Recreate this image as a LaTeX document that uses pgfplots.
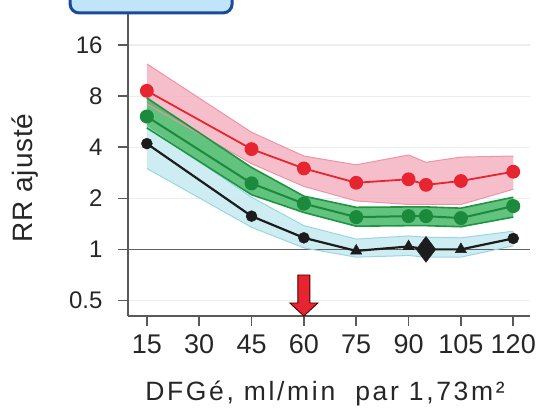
\documentclass[border=0pt]{standalone}
\usepackage{fontspec}
\setmainfont{Liberation Sans}
\newfontfamily\xlfont{Liberation Sans}[LetterSpace=10]
\newfontfamily\ylfont{Liberation Sans}[LetterSpace=3]
\usepackage{pgfplots}
\pgfplotsset{compat=1.18}
\usepgfplotslibrary{fillbetween}

\definecolor{cred}{HTML}{E62530}
\definecolor{pinkband}{HTML}{F4B3C2}
\definecolor{pinkedge}{HTML}{EE93A8}
\definecolor{cgreen}{HTML}{1B8A3C}
\definecolor{greenband}{HTML}{47B868}
\definecolor{greenedge}{HTML}{1F9442}
\definecolor{blueband}{HTML}{C8EBF2}
\definecolor{blueedge}{HTML}{9AD6E2}
\definecolor{cblack}{HTML}{1C1C1C}
\definecolor{boxfill}{HTML}{C0E4F8}
\definecolor{boxline}{HTML}{1A4A9C}

% x: 15 45 60 75 90 95 105 120
\pgfplotstableread{
x    rc    ru    rl    gc    gu    gl    kc    bu    bl
15   8.6   12.4  7.2   6.07  7.8   5.2   4.2   5.3   3.0
45   3.9   4.9   3.2   2.45  3.04  2.1   1.57  2.03  1.35
60   3.0   3.55  2.35  1.86  2.06  1.65  1.17  1.38  1.02
75   2.47  3.15  1.93  1.55  1.77  1.37  0.98  1.15  0.90
90   2.59  3.6   1.84  1.57  1.78  1.38  1.04  1.20  0.92
95   2.40  3.26  1.84  1.57  1.78  1.38  1.00  1.18  0.90
105  2.53  3.5   1.84  1.53  1.75  1.36  1.00  1.17  0.90
120  2.87  3.55  2.26  1.80  2.03  1.55  1.16  1.28  1.05
}\rr

\begin{document}
\begin{tikzpicture}
\begin{axis}[
  scale only axis, width=402pt, height=316pt,
  xmin=9.6, xmax=124.8,
  ymode=log, log basis y=2, ymin=0.405, ymax=29.5,
  axis x line*=bottom, axis y line*=left,
  xtick={15,30,45,60,75,90,105,120},
  xticklabels={15,30,45,60,75,90,105,120},
  ytick={0.5,1,2,4,8,16}, yticklabels={0.5,1,2,4,8,16},
  minor ytick={},
  tick align=outside, major tick length=10pt,
  every tick/.style={black!65, line width=1.6pt},
  axis line style={black!65, line width=1.8pt},
  xticklabel style={font=\fontsize{27}{30}\selectfont, text=black!85, yshift=-5pt},
  yticklabel style={font=\fontsize{24}{28}\selectfont, text=black!85, xshift=-12pt},
  ymajorgrids, grid style={black!7, line width=1.2pt},
  xlabel={\xlfont DFGé, ml/min\ \ par 1,73m²},
  xlabel style={at={(axis description cs:0.49,-0.245)}, anchor=center,
    font=\fontsize{26.5}{30}\selectfont, text=black!85},
  ylabel={\ylfont RR ajusté},
  ylabel style={at={(axis description cs:-0.256,0.437)}, anchor=center,
    font=\fontsize{28}{32}\selectfont, text=black!85},
  clip=false,
]
\coordinate (bl) at (rel axis cs:0,0);
\coordinate (tr) at (rel axis cs:1,1);

% reference line RR = 1
\addplot[black!62, line width=1.5pt] coordinates {(9.6,1) (124.8,1)};

% confidence bands
\addplot[name path=ru, pinkedge, line width=1pt] table[x=x,y=ru] {\rr};
\addplot[name path=rl, pinkedge, line width=1pt] table[x=x,y=rl] {\rr};
\addplot[pinkband, fill opacity=0.85] fill between[of=ru and rl];

\addplot[name path=bu, blueedge, line width=1pt] table[x=x,y=bu] {\rr};
\addplot[name path=bl, blueedge, line width=1pt] table[x=x,y=bl] {\rr};
\addplot[blueband, fill opacity=0.9] fill between[of=bu and bl];

\addplot[name path=gu, greenedge, line width=1.6pt] table[x=x,y=gu] {\rr};
\addplot[name path=gl, greenedge, line width=1.6pt] table[x=x,y=gl] {\rr};
\addplot[greenband, fill opacity=0.85] fill between[of=gu and gl];

% central lines
\addplot[cred, line width=1.8pt, mark=*, mark size=6pt] table[x=x,y=rc] {\rr};
\addplot[cgreen, line width=2pt, mark=*, mark size=6pt] table[x=x,y=gc] {\rr};
\addplot[cblack, line width=2.2pt] table[x=x,y=kc] {\rr};
\addplot[cblack, only marks, mark=*, mark size=5.5pt]
  coordinates {(15,4.2) (45,1.57) (60,1.17) (120,1.16)};
\addplot[cblack, only marks, mark=triangle*, mark size=6.5pt]
  coordinates {(75,0.98) (90,1.04) (105,1.00)};
\addplot[cblack, only marks, mark=diamond*, mark size=13pt]
  coordinates {(95,1.00)};

% arrow at 60
\coordinate (ar) at (axis cs:60,0.405);
\filldraw[fill=cred, draw=black!70!red, line width=0.9pt]
  (ar) -- ++(-14pt,13pt) -- ++(8pt,0pt) -- ++(0pt,28pt) -- ++(12pt,0pt)
  -- ++(0pt,-28pt) -- ++(8pt,0pt) -- cycle;

% panel box at top
\draw[draw=boxline, line width=3pt, fill=boxfill, rounded corners=9pt]
  (rel axis cs:-0.144,0.959) rectangle (rel axis cs:0.259,1.25);
\end{axis}
\pgfresetboundingbox
\path ([shift={(-128pt,-96pt)}]bl) rectangle ([shift={(14pt,0pt)}]tr);
\end{tikzpicture}
\end{document}
